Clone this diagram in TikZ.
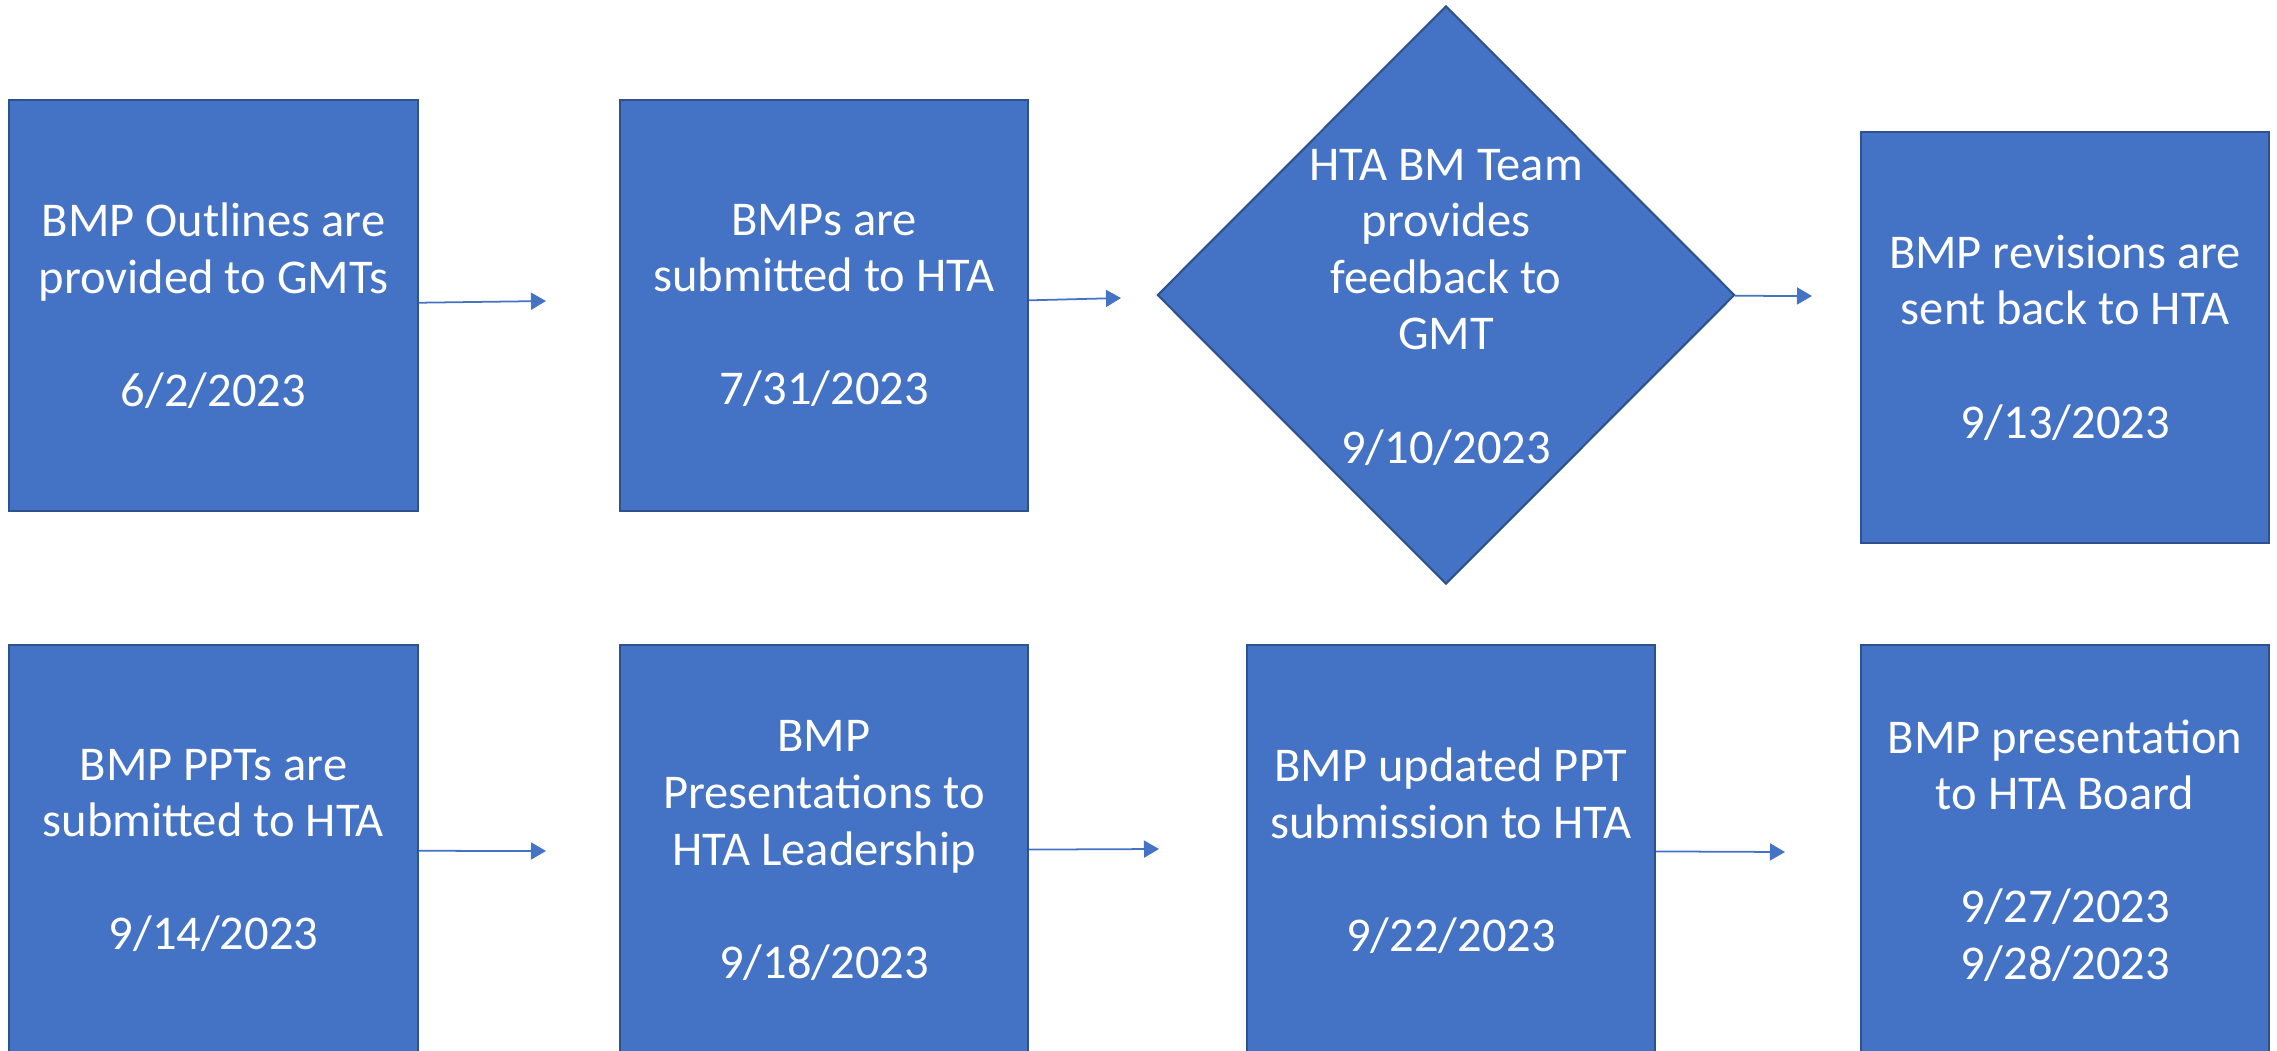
\documentclass[tikz,border=0pt]{standalone}
\usepackage{fontspec}
\setmainfont{Carlito}
\usetikzlibrary{shapes.geometric,arrows.meta}
\definecolor{stepblue}{HTML}{4472C4}
\definecolor{stepedge}{HTML}{2F528F}

\begin{document}
\begin{tikzpicture}[x=0.01cm,y=-0.01cm,
	steptext/.style={text=white,align=center,font=\fontsize{13.8}{16.1}\selectfont},
	stepbox/.style={steptext,draw=stepedge,line width=0.6pt,fill=stepblue,
		minimum width=4.08cm,minimum height=4.11cm,inner sep=0pt},
	stepdiamond/.style={stepbox,shape=diamond,minimum width=5.77cm,minimum height=5.78cm},
	flow/.style={draw=stepblue,line width=0.5pt,-{Triangle[length=0.15cm,width=0.17cm]}}]
	\clip (0,0) rectangle (2277,1051);
	
	% first row
	\node[stepbox] at (213.5,305.5) (outlines){BMP Outlines are\\provided to GMTs\\[16.1pt]6/2/2023};
	\node[stepbox] at (824,305.5) (submitted){BMPs are\\submitted to HTA\\[16.1pt]7/31/2023};
	\node[stepdiamond,label={[steptext,yshift=-0.12cm]center:HTA BM Team\\provides\\feedback to\\GMT\\[16.1pt]9/10/2023}] at (1446,295) (feedback){};
	\node[stepbox] at (2065,337.5) (revisions){BMP revisions are\\sent back to HTA\\[16.1pt]9/13/2023};
	
	% second row
	\node[stepbox] at (213.5,850.5) (ppts){BMP PPTs are\\submitted to HTA\\[16.1pt]9/14/2023};
	\node[stepbox] at (824,850.5) (leadership){BMP\\Presentations to\\HTA Leadership\\[16.1pt]9/18/2023};
	\node[stepbox] at (1451,850.5) (updated){BMP updated PPT\\submission to HTA\\[16.1pt]9/22/2023};
	\node[stepbox] at (2065,850.5) (board){BMP presentation\\to HTA Board\\[16.1pt]9/27/2023\\9/28/2023};
	
	% arrow ends
	\coordinate (e1) at (546,301);
	\coordinate (e2) at (1121,298);
	\coordinate (e3) at (1812,296);
	\coordinate (e5) at (546,851);
	\coordinate (e6) at (1159,849);
	\coordinate (e7) at (1785,852);
	
	% arrows
	\draw[flow] (outlines) -- (e1);
	\draw[flow] (submitted) -- (e2);
	\draw[flow] (feedback) -- (e3);
	\draw[flow] (ppts) -- (e5);
	\draw[flow] (leadership) -- (e6);
	\draw[flow] (updated) -- (e7);
\end{tikzpicture}
\end{document}
